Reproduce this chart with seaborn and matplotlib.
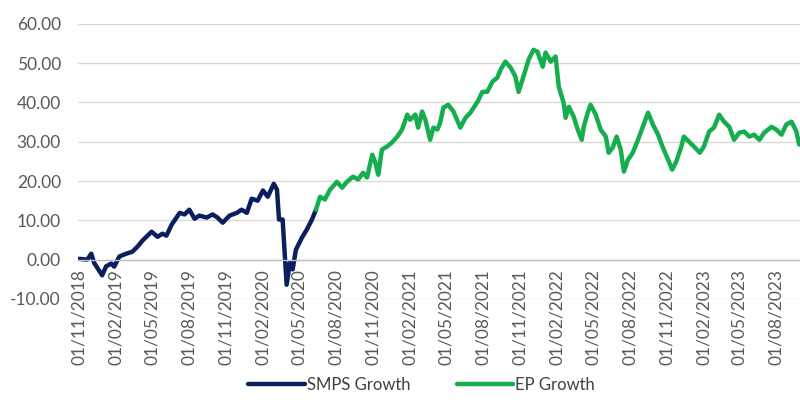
import numpy as np
import pandas as pd
import matplotlib
matplotlib.use("Agg")
import matplotlib.pyplot as plt
import matplotlib.dates as mdates
import seaborn as sns

# SMPS growth
smps_dates = ["2018-11-01", "2018-11-21", "2018-12-01", "2018-12-08", "2018-12-28",
              "2019-01-07", "2019-01-20", "2019-01-27", "2019-02-09", "2019-02-26",
              "2019-03-13", "2019-03-26", "2019-04-07", "2019-04-30", "2019-05-15",
              "2019-05-27", "2019-06-06", "2019-06-19", "2019-07-09", "2019-07-21",
              "2019-08-02", "2019-08-15", "2019-08-27", "2019-09-14", "2019-09-29",
              "2019-10-11", "2019-10-24", "2019-11-10", "2019-11-28", "2019-12-10",
              "2019-12-23", "2020-01-04", "2020-01-19", "2020-02-01", "2020-02-13",
              "2020-02-28", "2020-03-07", "2020-03-12", "2020-03-21", "2020-03-31",
              "2020-04-08", "2020-04-15", "2020-04-23", "2020-05-08", "2020-05-20",
              "2020-06-02", "2020-06-12"]
smps_values = [0.2, 0.0, 1.5, -0.8, -4.0,
               -1.7, -1.0, -1.8, 0.8, 1.5,
               2.0, 3.3, 4.8, 7.1, 5.8,
               6.6, 6.1, 8.9, 11.9, 11.5,
               12.7, 10.4, 11.2, 10.7, 11.5,
               10.7, 9.4, 11.2, 11.9, 12.7,
               11.9, 15.5, 15.0, 17.6, 16.0,
               19.3, 17.8, 10.2, 10.2, -6.4,
               -0.8, -2.5, 2.5, 5.6, 7.6,
               10.2, 12.7]

# EP growth
ep_dates = ["2020-06-12", "2020-06-22", "2020-07-04", "2020-07-17", "2020-08-03",
            "2020-08-16", "2020-08-28", "2020-09-12", "2020-09-25", "2020-10-07",
            "2020-10-17", "2020-10-30", "2020-11-06", "2020-11-14", "2020-11-23",
            "2020-12-06", "2020-12-18", "2020-12-31", "2021-01-12", "2021-01-25",
            "2021-02-01", "2021-02-14", "2021-02-21", "2021-03-03", "2021-03-11",
            "2021-03-23", "2021-03-31", "2021-04-10", "2021-04-17", "2021-04-25",
            "2021-05-07", "2021-05-20", "2021-06-06", "2021-06-19", "2021-07-01",
            "2021-07-19", "2021-07-31", "2021-08-12", "2021-08-25", "2021-09-06",
            "2021-09-14", "2021-09-26", "2021-10-09", "2021-10-21", "2021-10-29",
            "2021-11-10", "2021-11-23", "2021-12-05", "2021-12-15", "2021-12-28",
            "2022-01-04", "2022-01-17", "2022-01-29", "2022-02-06", "2022-02-18",
            "2022-02-23", "2022-03-03", "2022-03-15", "2022-03-25", "2022-04-04",
            "2022-04-09", "2022-04-19", "2022-04-26", "2022-05-09", "2022-05-21",
            "2022-06-03", "2022-06-10", "2022-06-20", "2022-06-30", "2022-07-10",
            "2022-07-18", "2022-07-28", "2022-08-09", "2022-08-22", "2022-09-03",
            "2022-09-16", "2022-09-28", "2022-10-11", "2022-10-23", "2022-11-05",
            "2022-11-15", "2022-11-25", "2022-12-07", "2022-12-14", "2022-12-27",
            "2023-01-08", "2023-01-23", "2023-02-02", "2023-02-15", "2023-02-27",
            "2023-03-12", "2023-03-24", "2023-04-06", "2023-04-18", "2023-05-01",
            "2023-05-13", "2023-05-26", "2023-06-07", "2023-06-20", "2023-07-02",
            "2023-07-20", "2023-08-01", "2023-08-14", "2023-08-26", "2023-09-08",
            "2023-09-20", "2023-09-27"]
ep_values = [12.7, 16.0, 15.3, 17.8, 19.8,
             18.3, 19.8, 21.1, 20.4, 22.1,
             20.9, 26.7, 24.9, 21.6, 28.0,
             28.8, 29.8, 31.3, 33.1, 36.9,
             35.6, 36.9, 33.6, 37.7, 35.6,
             30.5, 33.6, 33.1, 34.9, 38.7,
             39.4, 37.7, 33.6, 36.1, 37.4,
             40.2, 42.7, 42.7, 45.3, 46.3,
             48.3, 50.4, 48.9, 46.6, 42.7,
             46.6, 50.9, 53.4, 52.9, 49.1,
             52.7, 50.4, 51.7, 44.0, 39.9,
             36.1, 38.9, 36.4, 33.1, 30.5,
             33.8, 37.4, 39.4, 36.9, 33.1,
             31.3, 27.2, 28.5, 31.3, 28.0,
             22.4, 25.4, 27.2, 30.5, 33.8,
             37.4, 34.4, 31.8, 28.5, 25.4,
             22.9, 24.9, 28.5, 31.3, 30.0,
             28.8, 27.2, 28.8, 32.6, 33.6,
             36.9, 35.1, 33.8, 30.5, 32.3,
             32.6, 31.3, 31.8, 30.5, 32.3,
             33.8, 33.1, 31.8, 34.4, 35.1,
             32.6, 29.3]

series_names = ["SMPS Growth", "EP Growth"]
colours = {"SMPS Growth": "#0b1f5e", "EP Growth": "#16ad4f"}

df = pd.concat([
    pd.DataFrame({"date": pd.to_datetime(smps_dates), "value": smps_values, "series": series_names[0]}),
    pd.DataFrame({"date": pd.to_datetime(ep_dates), "value": ep_values, "series": series_names[1]}),
], ignore_index=True)

sns.set_theme(style="white")
plt.rcParams["font.family"] = ["Lato", "DejaVu Sans"]

fig = plt.figure(figsize=(8, 4.05), dpi=100)
ax = fig.add_axes([0.097, 0.262, 0.905, 0.679])

sns.lineplot(data=df, x="date", y="value", hue="series", hue_order=series_names,
             palette=colours, linewidth=3.2, ax=ax, sort=False, estimator=None)

ax.set_ylim(-10, 60)
ax.set_yticks(np.arange(-10, 61, 10))
ax.yaxis.set_major_formatter(matplotlib.ticker.FormatStrFormatter("%.2f"))
ax.set_xlim(pd.Timestamp("2018-10-28"), pd.Timestamp("2023-10-03"))
ax.xaxis.set_major_locator(mdates.MonthLocator(bymonth=[2, 5, 8, 11], bymonthday=1))
ax.xaxis.set_major_formatter(mdates.DateFormatter("%d/%m/%Y"))

ax.grid(axis="y", color="#d9d9d9", linewidth=1)
ax.set_axisbelow(True)
for s in ["top", "right", "left"]:
    ax.spines[s].set_visible(False)
ax.spines["bottom"].set_position(("data", 0))
ax.spines["bottom"].set_color("#bfbfbf")
ax.spines["bottom"].set_linewidth(1)

ax.tick_params(axis="x", direction="out", length=4, color="#bfbfbf", width=1,
               labelrotation=90, labelsize=12.5, labelcolor="#595959", pad=3)
ax.tick_params(axis="y", length=0, labelsize=12.5, labelcolor="#595959", pad=12)
ax.set_xlabel("")
ax.set_ylabel("")

leg = ax.legend(loc="lower center", bbox_to_anchor=(0.527, -0.008), bbox_transform=fig.transFigure,
                ncol=2, frameon=False, fontsize=12, handlelength=3.4, handletextpad=0.1,
                columnspacing=2.8, labelcolor="#404040")
for line in leg.get_lines():
    line.set_linewidth(3.2)

fig.savefig("out.png", dpi=100)
